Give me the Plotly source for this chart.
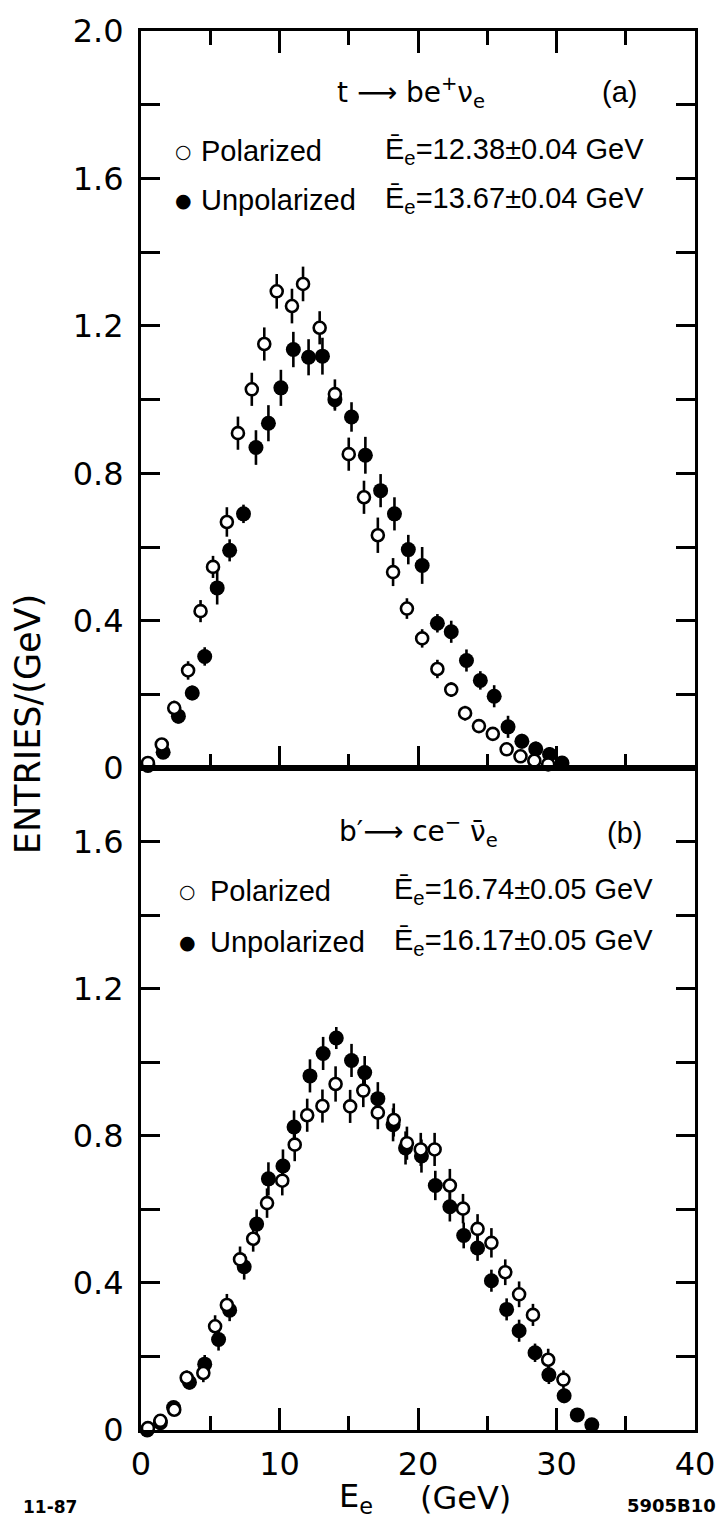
import plotly.graph_objects as go

# ---------------- data ----------------
# Panel (a): t -> b e+ nu_e
a_pol_x = [0.5, 1.5, 2.4, 3.4, 4.3, 5.2, 6.2, 7.0, 8.0, 8.9, 9.8, 10.9, 11.7, 12.9, 14.0,
           15.0, 16.1, 17.1, 18.2, 19.2, 20.3, 21.4, 22.4, 23.4, 24.4, 25.4, 26.4, 27.4, 28.4, 29.4]
a_pol_y = [0.014, 0.064, 0.163, 0.265, 0.426, 0.546, 0.668, 0.909, 1.028, 1.151, 1.294, 1.254, 1.314, 1.195, 1.015,
           0.852, 0.735, 0.632, 0.532, 0.433, 0.352, 0.269, 0.213, 0.149, 0.114, 0.093, 0.051, 0.032, 0.020, 0.010]
a_pol_e = [0.010, 0.015, 0.020, 0.025, 0.030, 0.030, 0.040, 0.045, 0.045, 0.045, 0.047, 0.047, 0.047, 0.045, 0.040,
           0.045, 0.045, 0.048, 0.038, 0.028, 0.025, 0.025, 0.020, 0.020, 0.015, 0.015, 0.010, 0.010, 0.010, 0.010]

a_unp_x = [0.5, 1.6, 2.7, 3.7, 4.6, 5.5, 6.4, 7.4, 8.3, 9.2, 10.1, 11.0, 12.1, 13.1, 14.0,
           15.2, 16.2, 17.3, 18.3, 19.3, 20.3, 21.4, 22.4, 23.5, 24.5, 25.5, 26.5, 27.5, 28.5, 29.5, 30.4]
a_unp_y = [0.007, 0.043, 0.141, 0.204, 0.303, 0.489, 0.591, 0.690, 0.870, 0.936, 1.032, 1.136, 1.115, 1.118, 1.000,
           0.953, 0.849, 0.753, 0.690, 0.593, 0.550, 0.393, 0.370, 0.292, 0.238, 0.195, 0.112, 0.073, 0.052, 0.037, 0.014]
a_unp_e = [0.010, 0.015, 0.020, 0.020, 0.025, 0.045, 0.030, 0.025, 0.047, 0.049, 0.049, 0.048, 0.049, 0.050, 0.030,
           0.040, 0.050, 0.045, 0.045, 0.040, 0.050, 0.025, 0.030, 0.030, 0.025, 0.030, 0.030, 0.020, 0.020, 0.020, 0.010]

# Panel (b): b' -> c e- nubar_e
b_pol_x = [0.5, 1.4, 2.4, 3.3, 4.5, 5.35, 6.2, 7.15, 8.1, 9.1, 10.2, 11.1, 12.0, 13.1, 14.05, 15.1,
           16.05, 17.1, 18.25, 19.2, 20.2, 21.2, 22.3, 23.25, 24.3, 25.3, 26.3, 27.3, 28.3, 29.4, 30.5]
b_pol_y = [0.005, 0.025, 0.055, 0.142, 0.155, 0.282, 0.340, 0.464, 0.520, 0.617, 0.678, 0.776, 0.856, 0.881, 0.941, 0.880,
           0.923, 0.863, 0.843, 0.780, 0.763, 0.763, 0.665, 0.602, 0.547, 0.509, 0.429, 0.369, 0.313, 0.191, 0.137]
b_pol_e = [0.010, 0.010, 0.015, 0.020, 0.025, 0.030, 0.030, 0.035, 0.035, 0.040, 0.040, 0.045, 0.045, 0.045, 0.048, 0.045,
           0.045, 0.045, 0.045, 0.045, 0.045, 0.045, 0.045, 0.040, 0.040, 0.040, 0.035, 0.035, 0.030, 0.030, 0.025]

b_unp_x = [0.45, 1.4, 2.35, 3.5, 4.6, 5.6, 6.4, 7.45, 8.35, 9.2, 10.25, 11.05, 12.2, 13.15, 14.1, 15.2, 16.15,
           17.1, 18.2, 19.1, 20.25, 21.25, 22.3, 23.3, 24.3, 25.3, 26.4, 27.3, 28.45, 29.45, 30.55, 31.5, 32.55]
b_unp_y = [0.000, 0.020, 0.061, 0.130, 0.179, 0.246, 0.326, 0.444, 0.560, 0.683, 0.718, 0.824, 0.963, 1.024, 1.066, 1.005, 0.972,
           0.901, 0.830, 0.767, 0.745, 0.665, 0.607, 0.529, 0.495, 0.406, 0.328, 0.270, 0.210, 0.150, 0.093, 0.041, 0.014]
b_unp_e = [0.010, 0.010, 0.015, 0.020, 0.025, 0.030, 0.030, 0.035, 0.040, 0.045, 0.045, 0.045, 0.045, 0.045, 0.030, 0.045, 0.045,
           0.045, 0.045, 0.045, 0.045, 0.040, 0.040, 0.035, 0.035, 0.030, 0.030, 0.030, 0.025, 0.025, 0.020, 0.015, 0.010]

x_ticks = [0, 10, 20, 30, 40]
x_ticktext = ["0", "10", "20", "30", "40"]
a_yticks = [0, 0.4, 0.8, 1.2, 1.6, 2.0]
a_yticktext = ["0", "0.4", "0.8", "1.2", "1.6", "2.0"]
b_yticks = [0, 0.4, 0.8, 1.2, 1.6]
b_yticktext = ["0", "0.4", "0.8", "1.2", "1.6"]

# ---------------- layout geometry ----------------
W, H = 727, 1536
L, R, T, B = 141, 29, 16, 106
PW, PH = W - L - R, H - T - B
MID = 761  # pixel row of the panel boundary
d = (H - B - MID) / PH

def px(x):
    return (x - L) / PW

def py(y):
    return (H - B - y) / PH

FONT = "DejaVu Sans"
TFONT = "Liberation Sans"

fig = go.Figure()

def add_series(x, y, e, xa, ya, filled):
    fig.add_trace(go.Scatter(
        x=x, y=y, xaxis=xa, yaxis=ya, mode="markers",
        error_y=dict(type="data", array=e, color="black", thickness=2.6, width=0),
        marker=dict(symbol="circle", size=15 if filled else 12,
                    color="black" if filled else "white",
                    line=dict(color="black", width=0 if filled else 2.6)),
        showlegend=False, hoverinfo="skip", cliponaxis=False))

add_series(a_unp_x, a_unp_y, a_unp_e, "x", "y", True)
add_series(a_pol_x, a_pol_y, a_pol_e, "x", "y", False)
add_series(b_unp_x, b_unp_y, b_unp_e, "x2", "y2", True)
add_series(b_pol_x, b_pol_y, b_pol_e, "x2", "y2", False)

axis_common = dict(showline=True, linecolor="black", linewidth=3, showgrid=False, zeroline=False,
                   ticks="inside", tickcolor="black", tickwidth=2.5, ticklabeloverflow="allow",
                   tickfont=dict(family=FONT, size=32, color="black"))

minor_x = dict(tickvals=[5, 15, 25, 35], ticklen=14, ticks="inside", tickcolor="black", tickwidth=2.5)

fig.update_layout(
    width=W, height=H, margin=dict(l=L, r=R, t=T, b=B),
    paper_bgcolor="white", plot_bgcolor="white",
    xaxis=dict(domain=[0, 1], anchor="y", range=[0, 40], tickvals=[0, 10, 20, 30, 40],
               showticklabels=False, ticklen=22, mirror="ticks", minor=minor_x, **axis_common),
    yaxis=dict(domain=[d, 1], anchor="x", range=[0, 2.0005], tickvals=a_yticks, ticktext=a_yticktext,
               ticklen=19, mirror="ticks", ticklabelstandoff=8,
               minor=dict(tickvals=[0.2, 0.6, 1.0, 1.4, 1.8], ticklen=19, ticks="inside",
                          tickcolor="black", tickwidth=2.5),
               **axis_common),
    xaxis2=dict(domain=[0, 1], anchor="y2", range=[0, 40], tickvals=x_ticks, ticktext=x_ticktext,
                ticklen=22, mirror=True, ticklabelstandoff=4, minor=minor_x, **axis_common),
    yaxis2=dict(domain=[0, d], anchor="x2", range=[0, 1.8], tickvals=b_yticks, ticktext=b_yticktext,
                ticklen=19, mirror="ticks", ticklabelstandoff=8,
                minor=dict(tickvals=[0.2, 0.6, 1.0, 1.4], ticklen=19, ticks="inside",
                           tickcolor="black", tickwidth=2.5),
                **axis_common),
)

def ann(text, x, y, size=29, xanchor="left", angle=0, bold=False, family=TFONT):
    fig.add_annotation(text=text, xref="paper", yref="paper", x=px(x), y=py(y),
                       xanchor=xanchor, yanchor="middle", showarrow=False, textangle=angle,
                       font=dict(family=family, size=size, color="black",
                                 weight="bold" if bold else "normal"))

# panel (a) texts
ann("t ⟶ be<sup>+</sup>ν<sub>e</sub>", 412, 78, xanchor="center", family=FONT, size=28)
ann("(a)", 622, 78, xanchor="center")
ann("○", 184, 137, size=19, xanchor="center", family=FONT)
ann("Polarized", 199, 137)
ann("Ē<sub>e</sub>=12.38±0.04 GeV", 649, 137, xanchor="right")
ann("●", 184, 187, size=19, xanchor="center", family=FONT)
ann("Unpolarized", 199, 187)
ann("Ē<sub>e</sub>=13.67±0.04 GeV", 649, 187, xanchor="right")

# panel (b) texts
ann("b′⟶ ce<sup>−</sup> ν̄<sub>e</sub>", 420, 825, xanchor="center", family=FONT, size=28)
ann("(b)", 627, 827, xanchor="center")
ann("○", 188, 885, size=19, xanchor="center", family=FONT)
ann("Polarized", 208, 885)
ann("Ē<sub>e</sub>=16.74±0.05 GeV", 658, 885, xanchor="right")
ann("●", 188, 937, size=19, xanchor="center", family=FONT)
ann("Unpolarized", 208, 937)
ann("Ē<sub>e</sub>=16.17±0.05 GeV", 658, 937, xanchor="right")

# axis titles and footers
ann("ENTRIES/(GeV)", 27, 717, size=35, xanchor="center", angle=-90, family=FONT)
ann("E<sub>e</sub>", 338, 1499, size=32, family=FONT)
ann("(GeV)", 420, 1499, size=32, family=FONT)
ann("11-87", 20, 1508, size=17, bold=True, family=FONT)
ann("5905B10", 721, 1506, size=18, xanchor="right", bold=True, family=FONT)

fig.write_html("out.html")
